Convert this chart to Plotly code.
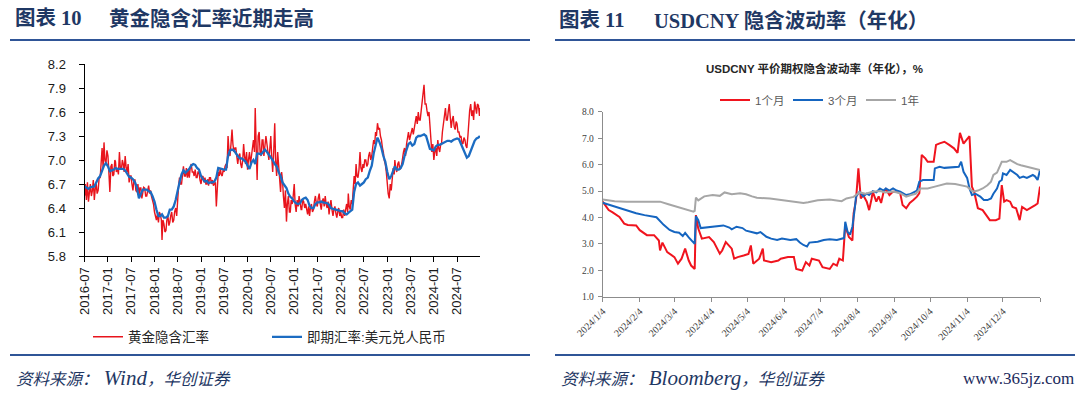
import plotly.graph_objects as go
import pandas as pd
from datetime import date, timedelta

# ================= Chart 10 data =================
# gold-implied USDCNY rate, four readings per month (2016-07 .. 2024-12)
gold_implied_rate = [
    # 2016 H2
    6.55, 6.70, 6.50, 6.72,  6.48, 6.62, 6.70, 6.55,  6.62, 6.75, 6.50, 6.65,
    6.70, 6.58, 6.62, 6.78,  6.78, 6.95, 7.15, 6.90,  7.22, 7.00, 6.95, 7.12,
    # 2017
    7.05, 6.85, 6.60, 6.92,  6.95, 6.80, 6.82, 7.00,  6.98, 6.85, 6.90, 6.82,
    7.10, 6.90, 6.88, 7.00,  6.95, 6.85, 7.05, 6.90,  6.85, 6.95, 6.72, 6.80,
    6.80, 6.70, 6.62, 6.75,  6.75, 6.62, 6.60, 6.70,  6.55, 6.65, 6.65, 6.52,
    6.58, 6.66, 6.65, 6.55,  6.55, 6.62, 6.68, 6.58,  6.62, 6.55, 6.50, 6.45,
    # 2018
    6.35, 6.28, 6.25, 6.32,  6.22, 6.35, 6.32, 6.25,  6.00, 6.25, 6.20, 6.10,
    6.12, 6.25, 6.30, 6.18,  6.22, 6.30, 6.35, 6.22,  6.25, 6.35, 6.40, 6.30,
    6.55, 6.65, 6.78, 6.70,  6.70, 6.85, 6.92, 6.80,  6.80, 6.90, 6.78, 6.88,
    6.78, 6.90, 6.95, 6.85,  6.85, 6.80, 6.88, 6.78,  6.78, 6.85, 6.85, 6.75,
    # 2019
    6.70, 6.78, 6.80, 6.72,  6.78, 6.70, 6.70, 6.76,  6.68, 6.78, 6.78, 6.70,
    6.75, 6.68, 6.70, 6.72,  6.42, 6.70, 6.85, 6.80,  6.90, 6.82, 6.80, 6.88,
    6.85, 6.92, 6.95, 6.90,  7.30, 7.12, 7.05, 7.20,  7.38, 7.20, 7.10, 7.15,
    7.15, 7.05, 6.95, 7.05,  7.08, 6.95, 6.90, 7.00,  7.20, 7.05, 6.95, 7.10,
    # 2020
    6.88, 7.00, 7.10, 6.95,  7.05, 7.15, 7.25, 7.10,  7.65, 7.20, 6.75, 7.30,
    7.35, 7.10, 7.05, 7.25,  7.25, 7.05, 7.15, 7.30,  7.20, 7.05, 7.00, 7.15,
    7.30, 7.05, 6.85, 7.10,  7.46, 7.00, 6.80, 7.10,  6.95, 6.75, 6.60, 6.85,
    6.75, 6.55, 6.40, 6.62,  6.23, 6.45, 6.55, 6.35,  6.35, 6.50, 6.45, 6.55,
    # 2021
    6.70, 6.45, 6.35, 6.50,  6.42, 6.55, 6.45, 6.38,  6.38, 6.50, 6.48, 6.40,
    6.45, 6.38, 6.32, 6.42,  6.30, 6.40, 6.45, 6.35,  6.38, 6.48, 6.55, 6.45,
    6.42, 6.52, 6.58, 6.45,  6.38, 6.48, 6.52, 6.42,  6.55, 6.45, 6.40, 6.48,
    6.32, 6.42, 6.50, 6.38,  6.30, 6.38, 6.42, 6.33,  6.28, 6.35, 6.40, 6.30,
    # 2022
    6.35, 6.28, 6.28, 6.38,  6.30, 6.38, 6.45, 6.35,  6.58, 6.42, 6.38, 6.50,
    6.45, 6.62, 6.80, 6.70,  6.95, 6.80, 6.78, 6.88,  7.10, 6.90, 6.85, 6.95,
    6.90, 7.00, 7.00, 6.92,  6.95, 7.05, 7.10, 7.00,  7.05, 7.15, 7.25, 7.20,
    7.35, 7.30, 7.46, 7.38,  7.40, 7.30, 7.25, 7.15,  7.10, 7.00, 6.95, 6.85,
    # 2023
    6.65, 6.58, 6.52, 6.70,  6.62, 6.78, 6.90, 6.82,  7.00, 6.90, 6.85, 6.95,
    6.98, 6.88, 6.90, 6.95,  7.05, 7.10, 7.15, 7.05,  7.20, 7.28, 7.35, 7.25,
    7.30, 7.38, 7.40, 7.32,  7.42, 7.50, 7.55, 7.45,  7.60, 7.50, 7.50, 7.62,
    7.72, 7.85, 7.94, 7.70,  7.70, 7.62, 7.55, 7.60,  7.40, 7.30, 7.10, 7.20,
    # 2024
    7.00, 7.10, 7.15, 7.05,  7.25, 7.15, 7.10, 7.20,  7.20, 7.35, 7.45, 7.55,
    7.65, 7.50, 7.50, 7.62,  7.70, 7.55, 7.40, 7.50,  7.55, 7.42, 7.38, 7.48,
    7.45, 7.35, 7.35, 7.28,  7.30, 7.22, 7.20, 7.28,  7.25, 7.18, 7.15, 7.30,
    7.50, 7.62, 7.70, 7.55,  7.62, 7.50, 7.73, 7.60,  7.58, 7.70, 7.68, 7.55,
    7.65,
]
# spot USDCNY, two readings per month (2016-07 .. 2024-12)
usdcny_spot = [
    # 2016 H2
    6.67, 6.66, 6.64, 6.66, 6.67, 6.67, 6.72, 6.77, 6.80, 6.88, 6.93, 6.96,
    # 2017
    6.92, 6.86, 6.87, 6.88, 6.90, 6.89, 6.89, 6.89, 6.89, 6.87, 6.82, 6.79,
    6.78, 6.76, 6.72, 6.66, 6.52, 6.58, 6.63, 6.63, 6.63, 6.61, 6.60, 6.55,
    # 2018
    6.48, 6.38, 6.30, 6.30, 6.32, 6.28, 6.28, 6.30, 6.38, 6.38, 6.42, 6.50,
    6.62, 6.72, 6.82, 6.87, 6.84, 6.86, 6.89, 6.93, 6.95, 6.94, 6.90, 6.88,
    # 2019
    6.80, 6.76, 6.73, 6.74, 6.71, 6.72, 6.72, 6.73, 6.78, 6.90, 6.89, 6.88,
    6.88, 6.88, 7.05, 7.12, 7.13, 7.12, 7.08, 7.05, 7.02, 7.02, 7.00, 6.98,
    # 2020
    6.93, 6.89, 6.97, 7.00, 6.95, 7.08, 7.08, 7.07, 7.10, 7.13, 7.10, 7.07,
    7.03, 7.00, 6.95, 6.92, 6.85, 6.80, 6.72, 6.68, 6.65, 6.58, 6.54, 6.52,
    # 2021
    6.48, 6.46, 6.45, 6.46, 6.50, 6.52, 6.53, 6.50, 6.43, 6.40, 6.40, 6.45,
    6.47, 6.47, 6.48, 6.47, 6.46, 6.46, 6.44, 6.40, 6.39, 6.38, 6.37, 6.37,
    # 2022
    6.36, 6.36, 6.33, 6.32, 6.34, 6.36, 6.38, 6.60, 6.70, 6.72, 6.68, 6.70,
    6.72, 6.76, 6.78, 6.86, 6.93, 7.08, 7.17, 7.28, 7.22, 7.15, 7.05, 6.98,
    # 2023
    6.85, 6.76, 6.80, 6.88, 6.92, 6.88, 6.88, 6.90, 6.95, 7.05, 7.12, 7.20,
    7.22, 7.18, 7.20, 7.28, 7.30, 7.30, 7.31, 7.32, 7.30, 7.20, 7.14, 7.13,
    # 2024
    7.12, 7.17, 7.19, 7.19, 7.20, 7.22, 7.23, 7.24, 7.24, 7.23, 7.25, 7.26,
    7.27, 7.26, 7.20, 7.14, 7.08, 7.03, 7.05, 7.12, 7.18, 7.24, 7.27, 7.28,
    7.30,
]
month_starts = pd.date_range("2016-07-01", "2024-12-01", freq="MS")
gold_dates = [(m + pd.Timedelta(days=d)).strftime("%Y-%m-%d") for m in month_starts for d in (0, 7, 15, 23)] + ["2024-12-27"]
spot_dates = [(m + pd.Timedelta(days=d)).strftime("%Y-%m-%d") for m in month_starts for d in (0, 15)] + ["2024-12-27"]

# ================= Chart 11 data (day offsets from 2024-01-04) =================
vol_start = date(2024, 1, 4)
vol_1m_days = [0, 5, 8, 14, 18, 21, 28, 31, 37, 43, 47, 48, 50, 54, 60, 63, 66, 69, 72, 74, 77, 78, 80, 83,
               89, 93, 98, 100, 103, 108, 110, 113, 118, 122, 124, 126, 131, 134, 135, 141, 147, 149, 155,
               160, 162, 167, 170, 173, 175, 181, 184, 190, 193, 196, 198, 201, 203, 206, 209,
               210, 212, 214, 216, 218, 221, 223, 225, 226, 229, 231, 233, 235, 237, 240, 243, 246, 249,
               251, 254, 257, 260, 263, 265, 267, 270, 272, 277, 279, 282, 286, 290, 294, 297, 299, 302,
               305, 307, 309, 311, 314, 318, 321, 324, 329, 332, 334, 336, 338, 341, 343, 346, 349, 351,
               355, 358, 362, 364, 366]
vol_1m = [4.60, 4.28, 4.20, 4.02, 3.77, 3.72, 3.70, 3.52, 3.33, 3.33, 3.13, 2.75, 3.05, 2.69, 2.50, 2.25, 2.44, 2.82, 2.37, 2.18, 2.05, 4.09, 3.58, 3.20,
          3.26, 3.07, 2.63, 2.75, 3.07, 2.82, 2.44, 2.50, 2.56, 2.62, 2.94, 2.25, 2.44, 2.82, 2.37, 2.31, 2.37, 2.44, 2.50,
          2.50, 2.05, 1.99, 2.31, 2.18, 2.44, 2.37, 2.12, 2.05, 2.25, 2.18, 2.44, 2.37, 3.70, 3.26, 3.13,
          4.16, 4.66, 5.86, 4.72, 4.85, 4.60, 4.28, 4.70, 4.98, 4.60, 4.80, 4.55, 4.95, 5.08, 4.85, 4.98, 4.98, 4.92,
          4.47, 4.35, 4.55, 4.66, 4.79, 4.92, 6.37, 6.24, 6.11, 6.11, 6.75, 6.81, 6.87, 6.75, 6.62, 6.45, 7.21, 6.80,
          6.95, 7.08, 5.17, 4.95, 4.35, 4.28, 4.09, 3.90, 3.90, 3.96, 5.23, 4.60, 4.66, 4.60, 4.40, 4.35, 3.90, 4.40,
          4.28, 4.35, 4.47, 4.53, 5.17]

vol_3m_days = [0, 14, 28, 35, 45, 51, 56, 60, 64, 67, 69, 72, 75, 77, 78, 80, 82, 90, 95, 101, 106, 108, 112, 117,
               120, 123, 129, 132, 137, 141, 146, 150, 157, 162, 165, 168, 171, 173, 180, 185, 190, 196, 200,
               202, 203, 205, 207, 209, 211, 212, 215, 218, 221, 223, 226, 229, 232, 235, 237, 240, 243, 246,
               249, 251, 254, 257, 260, 263, 265, 268, 272, 277, 278, 282, 286, 290, 295, 298, 300, 302, 305,
               307, 309, 312, 316, 319, 322, 325, 327, 330, 332, 334, 335, 338, 341, 344, 347, 349, 352, 355,
               358, 360, 362, 364, 366]
vol_3m = [4.56, 4.35, 4.16, 4.09, 4.01, 3.72, 3.53, 3.45, 3.42, 3.30, 3.42, 3.25, 3.08, 3.00, 4.05, 3.90, 3.60, 3.65, 3.68, 3.70, 3.62, 3.55, 3.65, 3.60,
          3.50, 3.46, 3.40, 3.45, 3.27, 3.20, 3.15, 3.20, 3.15, 3.18, 3.05, 2.96, 2.90, 3.05, 3.08, 3.15, 3.18, 3.15, 3.20,
          3.22, 3.84, 3.45, 3.35, 3.65, 4.35, 4.79, 4.98, 4.80, 4.90, 4.85, 5.00, 4.95, 5.10, 5.02, 5.10, 5.02, 5.10, 5.02,
          4.98, 4.92, 4.85, 4.88, 4.95, 5.02, 5.36, 5.42, 5.42, 5.42, 5.86, 5.92, 5.88, 5.90, 5.92, 5.92, 6.11, 5.73, 5.50,
          5.10, 4.85, 4.90, 4.79, 4.66, 4.66, 4.72, 4.90, 5.10, 5.36, 5.42, 5.67, 5.61, 5.80, 5.72, 5.61, 5.50, 5.55, 5.50,
          5.55, 5.61, 5.55, 5.42, 5.80]

vol_1y_days = [0, 10, 20, 30, 40, 48, 55, 62, 70, 76, 77, 78, 80, 85, 92, 98, 102, 108, 115, 120, 125, 129, 140,
               150, 160, 168, 172, 180, 190, 200, 204, 210, 215, 220, 226, 232, 237, 243, 249, 254, 258, 262,
               266, 272, 278, 283, 288, 295, 300, 305, 310, 314, 318, 322, 325, 327, 330, 332, 334, 338, 341,
               344, 347, 350, 355, 360, 366]
vol_1y = [4.68, 4.62, 4.60, 4.60, 4.62, 4.60, 4.50, 4.40, 4.30, 4.22, 4.25, 4.75, 4.65, 4.80, 4.85, 4.82, 4.95, 4.88, 4.92, 4.88, 4.80, 4.75, 4.72,
          4.65, 4.60, 4.55, 4.58, 4.65, 4.68, 4.62, 4.72, 4.78, 4.95, 4.90, 4.98, 5.00, 4.95, 4.98, 4.92, 4.79, 4.85, 4.90,
          5.10, 5.10, 5.17, 5.22, 5.29, 5.27, 5.22, 5.17, 4.98, 5.02, 5.10, 5.22, 5.36, 5.61, 5.70, 5.90, 6.11, 6.11, 6.17,
          6.10, 6.02, 5.98, 5.92, 5.86, 5.80]

vol_tick_months = list(range(1, 13))

def to_dates(days):
    return [(vol_start + timedelta(days=d)).isoformat() for d in days]

# ================= colours =================
RED = "#E8141C"
BLUE = "#1C6CC2"
GRAY = "#A6A6A6"
NAVY = "#1F3864"
RULE = "#2F5597"

fig = go.Figure()

# ---- left chart traces ----
fig.add_trace(go.Scatter(x=gold_dates, y=gold_implied_rate, mode="lines", name="黄金隐含汇率",
                         line=dict(color=RED, width=1.4), xaxis="x", yaxis="y", legend="legend"))
fig.add_trace(go.Scatter(x=spot_dates, y=usdcny_spot, mode="lines", name="即期汇率:美元兑人民币",
                         line=dict(color=BLUE, width=2.3), xaxis="x", yaxis="y", legend="legend"))

# ---- right chart traces ----
fig.add_trace(go.Scatter(x=to_dates(vol_1m_days), y=vol_1m, mode="lines", name="1个月",
                         line=dict(color="#F0141E", width=2), xaxis="x2", yaxis="y2", legend="legend2"))
fig.add_trace(go.Scatter(x=to_dates(vol_3m_days), y=vol_3m, mode="lines", name="3个月",
                         line=dict(color="#1565C0", width=2), xaxis="x2", yaxis="y2", legend="legend2"))
fig.add_trace(go.Scatter(x=to_dates(vol_1y_days), y=vol_1y, mode="lines", name="1年",
                         line=dict(color=GRAY, width=2), xaxis="x2", yaxis="y2", legend="legend2"))

W, H = 1080, 395
def px(x):
    return x / W
def py(y):
    return 1 - y / H

LFONT = "Liberation Sans, Noto Sans CJK SC, sans-serif"
SFONT = "Liberation Serif, Noto Sans CJK SC, serif"

fig.update_layout(
    width=W, height=H, autosize=False,
    margin=dict(l=0, r=0, t=0, b=0, pad=0, autoexpand=False),
    paper_bgcolor="white", plot_bgcolor="white",
    showlegend=True,
    xaxis=dict(domain=[px(84.5), px(480)], type="date",
               range=["2016-07-01", "2024-12-28"],
               tick0="2016-07-01", dtick="M6", tickformat="%Y-%m", tickangle=-90,
               showline=True, linecolor="#000000", linewidth=1,
               ticks="outside", ticklen=5, tickcolor="#000000",
               showgrid=False, zeroline=False, automargin=False,
               tickfont=dict(family=LFONT, size=13, color="#1a1a1a"),
               anchor="y"),
    yaxis=dict(domain=[py(256), py(64)], range=[5.8, 8.2], dtick=0.3, tick0=5.8,
               tickformat=".1f",
               showline=True, linecolor="#000000", linewidth=1,
               ticks="outside", ticklen=5, tickcolor="#000000",
               showgrid=False, zeroline=False, ticklabelstandoff=10, automargin=False,
               tickfont=dict(family=LFONT, size=13, color="#1a1a1a"),
               anchor="x"),
    xaxis2=dict(domain=[px(602.7), px(1040)], type="date",
                range=["2024-01-04", "2025-01-04"],
                tickmode="array",
                tickvals=[f"2024-{m:02d}-04" for m in vol_tick_months] + ["2025-01-04"],
                ticktext=[f"2024/{m}/4" for m in vol_tick_months] + [""],
                tickangle=-45,
                showline=True, linecolor="#8C8C8C", linewidth=1,
                ticks="outside", ticklen=4, tickcolor="#8C8C8C",
                showgrid=False, zeroline=False, automargin=False,
                tickfont=dict(family=SFONT, size=10, color="#404040"),
                anchor="y2"),
    yaxis2=dict(domain=[py(296.7), py(111.9)], range=[1, 8], dtick=1, tick0=1,
                tickformat=".1f",
                showline=True, linecolor="#8C8C8C", linewidth=1,
                ticks="outside", ticklen=4, tickcolor="#8C8C8C",
                showgrid=False, zeroline=False, ticklabelstandoff=2, automargin=False,
                tickfont=dict(family=SFONT, size=9.5, color="#404040"),
                anchor="x2"),
    legend=dict(orientation="h", x=px(88), y=py(337), xanchor="left", yanchor="middle",
                font=dict(family=LFONT, size=13.5, color="#262626"),
                entrywidth=134, entrywidthmode="pixels", bgcolor="rgba(0,0,0,0)",
                traceorder="normal", itemclick=False),
    legend2=dict(orientation="h", x=px(715), y=py(100), xanchor="left", yanchor="middle",
                 font=dict(family=LFONT, size=11.5, color="#595959"),
                 entrywidth=28, entrywidthmode="pixels", bgcolor="rgba(0,0,0,0)",
                 traceorder="normal", itemclick=False),
)

HDR = dict(family=SFONT, size=20.5, color=NAVY)
SRC = dict(family=SFONT, size=16.5, color=NAVY)
annotations = [
    dict(text="<b>图表 10</b>", x=px(12.5), y=py(18), font=HDR),
    dict(text="<b>黄金隐含汇率近期走高</b>", x=px(107), y=py(18), font=HDR),
    dict(text="<b>图表 11</b>", x=px(557), y=py(20), font=HDR),
    dict(text="<b>USDCNY 隐含波动率（年化）</b>", x=px(652), y=py(20), font=HDR),
    dict(text="<i>资料来源：<span style='font-size:21px'> Wind</span>，华创证券</i>",
         x=px(14), y=py(377.5), font=SRC),
    dict(text="<i>资料来源：<span style='font-size:21px'> Bloomberg</span>，华创证券</i>",
         x=px(559), y=py(377.5), font=SRC),
]
for a in annotations:
    a.update(xref="paper", yref="paper", xanchor="left", yanchor="middle", showarrow=False)
fig.add_annotation(text="<b>USDCNY 平价期权隐含波动率（年化），%</b>", x=px(814.6), y=py(68.3),
                   xref="paper", yref="paper", xanchor="center", yanchor="middle", showarrow=False,
                   font=dict(family=LFONT, size=11.5, color="#262626"))
fig.add_annotation(text="www.365jz.com", x=px(1076), y=py(378),
                   xref="paper", yref="paper", xanchor="right", yanchor="middle", showarrow=False,
                   font=dict(family=SFONT, size=17, color="#1B2A5C"))
for a in annotations:
    fig.add_annotation(**a)

for (x0, x1, y) in [(10, 530, 40), (555, 1075, 40), (10, 530, 355), (555, 1075, 355)]:
    fig.add_shape(type="line", xref="paper", yref="paper", x0=px(x0), x1=px(x1), y0=py(y), y1=py(y),
                  line=dict(color=RULE, width=2))

fig.write_html("out.html", config={"displayModeBar": False},
               post_script="document.body.style.margin='0';")
